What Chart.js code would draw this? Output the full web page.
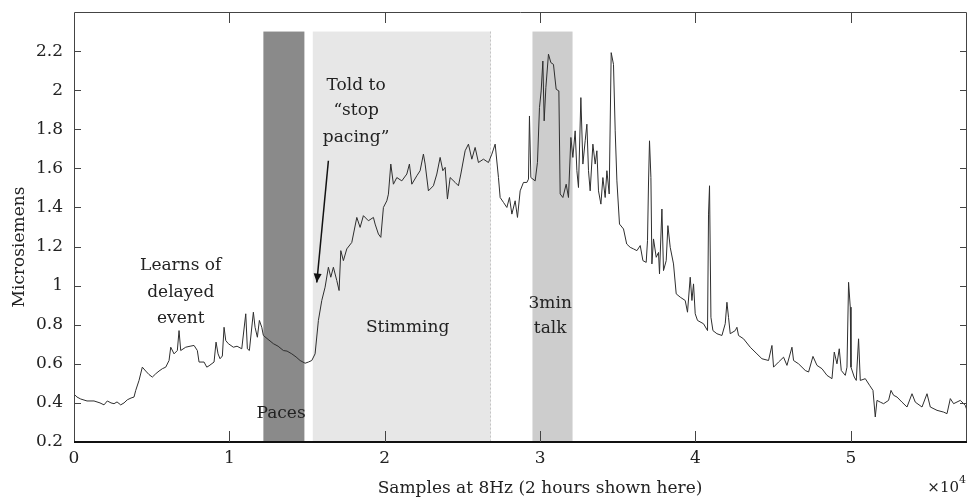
<!DOCTYPE html>
<html>
<head>
<meta charset="utf-8">
<script src="https://cdn.jsdelivr.net/npm/chart.js@4.4.1/dist/chart.umd.min.js"></script>
<style>
html,body{margin:0;padding:0;background:#fff;}
canvas{display:block;}
</style>
</head>
<body>
<canvas id="c" width="970" height="499"></canvas>
<script>
// ---- data ----
const sampleX = [0,193,431,837,1288,1674,1932,2144,2382,2576,2769,3007,3220,3432,3670,3863,3973,4185,4398,4617,4829,5042,5261,5473,5686,5905,6117,6227,6439,6651,6761,6870,7192,7469,7727,7939,8049,8371,8545,8693,9015,9143,9272,9401,9549,9659,9768,9935,10257,10496,10798,11056,11159,11288,11545,11655,11803,11932,12086,12189,12492,12833,13136,13477,13715,14018,14295,14552,14874,15087,15306,15518,15731,15949,16162,16374,16529,16696,16915,17063,17173,17340,17559,17881,18203,18416,18628,18950,19272,19381,19594,19749,19916,20135,20238,20392,20560,20779,21101,21423,21590,21745,22066,22279,22491,22601,22813,23135,23354,23567,23741,23889,24037,24211,24533,24745,24900,25176,25389,25608,25820,26033,26355,26677,26896,27108,27321,27430,27643,27862,28029,28184,28396,28545,28718,28931,29150,29253,29317,29407,29684,29832,29961,30070,30180,30263,30373,30540,30695,30862,31036,31210,31293,31467,31680,31828,31983,32111,32259,32369,32472,32626,32755,32903,33013,33116,33225,33399,33547,33657,33760,33915,34043,34191,34301,34449,34578,34726,34835,34945,35112,35370,35576,35801,36014,36233,36446,36619,36831,36915,36979,37044,37134,37198,37301,37475,37623,37688,37842,37945,38119,38228,38376,38589,38763,39020,39342,39490,39664,39774,39877,39986,40134,40521,40778,40843,40907,40997,41126,41383,41705,41918,42027,42130,42240,42562,42671,42774,43096,43527,43959,44281,44706,44925,45028,45350,45672,45891,46213,46316,46638,47069,47282,47565,47823,48145,48467,48789,48937,49110,49258,49387,49645,49754,49857,49966,50012,50224,50353,50501,50611,50933,51209,51428,51576,51686,51898,52111,52433,52588,52755,52974,53296,53618,53940,54152,54584,54906,55118,55549,55974,56193,56406,56618,57050,57372,57481];
const microsiemens = [0.445,0.43,0.42,0.41,0.41,0.40,0.39,0.41,0.40,0.396,0.405,0.39,0.40,0.416,0.425,0.43,0.464,0.515,0.583,0.563,0.545,0.532,0.549,0.563,0.575,0.583,0.617,0.685,0.651,0.668,0.770,0.668,0.685,0.69,0.694,0.668,0.609,0.609,0.583,0.590,0.609,0.711,0.651,0.626,0.640,0.787,0.719,0.703,0.685,0.690,0.677,0.856,0.677,0.668,0.864,0.787,0.736,0.822,0.787,0.745,0.725,0.703,0.69,0.668,0.665,0.651,0.635,0.617,0.603,0.609,0.617,0.651,0.822,0.924,0.992,1.094,1.043,1.094,1.026,0.975,1.179,1.128,1.188,1.221,1.349,1.298,1.358,1.332,1.349,1.315,1.264,1.247,1.40,1.434,1.468,1.622,1.519,1.553,1.536,1.571,1.622,1.519,1.562,1.588,1.673,1.622,1.485,1.511,1.571,1.656,1.588,1.605,1.443,1.553,1.528,1.511,1.571,1.690,1.724,1.647,1.707,1.630,1.647,1.630,1.673,1.724,1.553,1.451,1.426,1.40,1.451,1.366,1.434,1.349,1.485,1.528,1.528,1.545,1.868,1.553,1.536,1.630,1.911,1.996,2.149,1.843,2.013,2.184,2.141,2.132,2.005,1.996,1.469,1.451,1.519,1.451,1.758,1.656,1.792,1.588,1.502,1.962,1.622,1.741,1.826,1.588,1.485,1.724,1.622,1.690,1.485,1.417,1.553,1.451,1.588,1.469,2.192,2.132,1.792,1.536,1.315,1.290,1.213,1.196,1.188,1.179,1.205,1.128,1.119,1.230,1.520,1.741,1.553,1.111,1.239,1.145,1.170,1.060,1.392,1.077,1.128,1.307,1.196,1.111,0.958,0.941,0.924,0.864,1.043,0.924,1.009,0.856,0.822,0.805,0.770,1.366,1.511,0.838,0.770,0.754,0.745,0.805,0.915,0.838,0.754,0.770,0.787,0.745,0.728,0.685,0.651,0.626,0.617,0.694,0.583,0.609,0.634,0.592,0.685,0.617,0.600,0.566,0.558,0.638,0.592,0.575,0.541,0.524,0.660,0.600,0.677,0.566,0.541,0.583,1.017,0.890,0.583,0.532,0.515,0.728,0.515,0.524,0.490,0.464,0.328,0.413,0.404,0.396,0.413,0.464,0.439,0.430,0.404,0.379,0.447,0.404,0.379,0.447,0.379,0.362,0.353,0.345,0.422,0.396,0.413,0.387,0.362];

const regionNames = ["Paces", "Stimming", "3min talk"];
const regionStart = [12190, 15370, 29510];
const regionEnd   = [14830, 26830, 32090];
const regionTop = 2.3;

const xTickValues = [0, 10000, 20000, 30000, 40000, 50000];
const xTickLabels = ["0", "1", "2", "3", "4", "5"];
const yTickValues = [0.2, 0.4, 0.6, 0.8, 1.0, 1.2, 1.4, 1.6, 1.8, 2.0, 2.2];
const yTickLabels = ["0.2", "0.4", "0.6", "0.8", "1", "1.2", "1.4", "1.6", "1.8", "2", "2.2"];
const xMin = 0, xMax = 57480, yMin = 0.2, yMax = 2.4;

// ---- styling ----
const FONT = "DejaVu Serif";
const TEXT = "#222";
const regionColors = ["#8a8a8a", "#e7e7e7", "#cdcdcd"];

const annotations = [
  {lines: ["Learns of", "delayed", "event"], x: 6870, y: [1.102, 0.966, 0.832]},
  {lines: ["Paces"], x: 13329, y: [0.347]},
  {lines: ["Told to", "\u201cstop", "pacing\u201d"], x: 18158, y: [2.022, 1.894, 1.758]},
  {lines: ["Stimming"], x: 21474, y: [0.787]},
  {lines: ["3min", "talk"], x: 30650, y: [0.907, 0.779]}
];
const arrow = {from: [16374, 1.639], to: [15628, 1.016]};

const bgPlugin = {
  id: "bg",
  beforeDatasetsDraw(chart) {
    const {ctx, scales: {x, y}} = chart;
    ctx.save();
    for (let i = 0; i < regionStart.length; i++) {
      const x0 = x.getPixelForValue(regionStart[i]);
      const x1 = x.getPixelForValue(regionEnd[i]);
      const y0 = y.getPixelForValue(regionTop);
      const y1 = y.getPixelForValue(yMin);
      ctx.fillStyle = regionColors[i];
      ctx.fillRect(x0, y0, x1 - x0, y1 - y0);
    }
    // faint dashed right edge of stimming block
    ctx.strokeStyle = "#c4c4c4";
    ctx.setLineDash([2, 2]);
    ctx.lineWidth = 1;
    const sx = Math.round(x.getPixelForValue(regionEnd[1])) - 0.5;
    ctx.beginPath();
    ctx.moveTo(sx, y.getPixelForValue(regionTop));
    ctx.lineTo(sx, y.getPixelForValue(yMin));
    ctx.stroke();
    ctx.setLineDash([]);
    ctx.fillStyle = TEXT;
    ctx.font = "17px '" + FONT + "'";
    ctx.textAlign = "center";
    ctx.textBaseline = "middle";
    annotations.forEach(a => {
      a.lines.forEach((t, k) => {
        ctx.fillText(t, x.getPixelForValue(a.x), y.getPixelForValue(a.y[k]));
      });
    });
    // arrow
    const ax0 = x.getPixelForValue(arrow.from[0]), ay0 = y.getPixelForValue(arrow.from[1]);
    const ax1 = x.getPixelForValue(arrow.to[0]), ay1 = y.getPixelForValue(arrow.to[1]);
    ctx.strokeStyle = "#111";
    ctx.lineWidth = 1.5;
    ctx.beginPath(); ctx.moveTo(ax0, ay0); ctx.lineTo(ax1, ay1); ctx.stroke();
    const ang = Math.atan2(ay1 - ay0, ax1 - ax0);
    const L = 9, W = 4;
    ctx.beginPath();
    ctx.moveTo(ax1, ay1);
    ctx.lineTo(ax1 - L * Math.cos(ang) + W * Math.sin(ang), ay1 - L * Math.sin(ang) - W * Math.cos(ang));
    ctx.lineTo(ax1 - L * Math.cos(ang) - W * Math.sin(ang), ay1 - L * Math.sin(ang) + W * Math.cos(ang));
    ctx.closePath();
    ctx.fillStyle = "#111";
    ctx.fill();
    ctx.restore();
  },
  afterDraw(chart) {
    const {ctx, chartArea: a, scales: {x, y}} = chart;
    ctx.save();
    // frame
    ctx.strokeStyle = "#444";
    ctx.lineWidth = 1;
    ctx.beginPath();
    ctx.moveTo(a.left + 0.5, a.bottom); ctx.lineTo(a.left + 0.5, a.top + 0.5);
    ctx.lineTo(a.right - 0.5, a.top + 0.5); ctx.lineTo(a.right - 0.5, a.bottom);
    ctx.stroke();
    ctx.strokeStyle = "#111";
    ctx.lineWidth = 2;
    ctx.beginPath(); ctx.moveTo(a.left, a.bottom); ctx.lineTo(a.right, a.bottom); ctx.stroke();
    // inward ticks
    ctx.strokeStyle = "#444";
    ctx.lineWidth = 1;
    ctx.beginPath();
    xTickValues.forEach(v => {
      const px = Math.round(x.getPixelForValue(v)) + 0.5;
      if (v !== xMin) {
        ctx.moveTo(px, a.bottom); ctx.lineTo(px, a.bottom - 11);
        ctx.moveTo(px, a.top); ctx.lineTo(px, a.top + 11);
      }
    });
    yTickValues.forEach(v => {
      const py = Math.round(y.getPixelForValue(v)) + 0.5;
      if (v !== yMin) {
        ctx.moveTo(a.left, py); ctx.lineTo(a.left + 7, py);
        ctx.moveTo(a.right, py); ctx.lineTo(a.right - 7, py);
      }
    });
    ctx.stroke();
    // axis titles
    ctx.fillStyle = TEXT;
    ctx.font = "17px '" + FONT + "'";
    ctx.textAlign = "center";
    ctx.textBaseline = "alphabetic";
    ctx.fillText("Samples at 8Hz (2 hours shown here)", 540, 493);
    ctx.textAlign = "left";
    ctx.font = "15px '" + FONT + "'";
    const w = ctx.measureText("\u00d710").width;
    ctx.font = "11px '" + FONT + "'";
    const w4 = ctx.measureText("4").width;
    const startX = 966 - w - w4;
    ctx.font = "15px '" + FONT + "'";
    ctx.fillText("\u00d710", startX, 492);
    ctx.font = "11px '" + FONT + "'";
    ctx.fillText("4", startX + w, 483);
    ctx.save();
    ctx.translate(24, 247);
    ctx.rotate(-Math.PI / 2);
    ctx.font = "17px '" + FONT + "'";
    ctx.textAlign = "center";
    ctx.fillText("Microsiemens", 0, 0);
    ctx.restore();
    ctx.restore();
  }
};

const points = sampleX.map((v, i) => ({x: v, y: microsiemens[i]}));

new Chart(document.getElementById("c"), {
  type: "line",
  data: {
    datasets: [{
      data: points,
      borderColor: "#2e2e2e",
      borderWidth: 1,
      pointRadius: 0,
      tension: 0,
      fill: false
    }]
  },
  options: {
    responsive: false,
    animation: false,
    devicePixelRatio: 1,
    layout: {padding: {left: 0, right: 3, top: 12, bottom: 0}},
    plugins: {legend: {display: false}, tooltip: {enabled: false}},
    scales: {
      x: {
        type: "linear", min: xMin, max: xMax,
        afterFit(s) { s.height = 57; s.paddingLeft = 0; s.paddingRight = 0; },
        afterBuildTicks(s) { s.ticks = xTickValues.map(v => ({value: v})); },
        grid: {display: false, drawTicks: false},
        border: {display: false},
        ticks: {
          callback: (v) => { const i = xTickValues.indexOf(v); return i >= 0 ? xTickLabels[i] : ""; },
          font: {family: FONT, size: 17}, color: TEXT, padding: 6, maxRotation: 0, autoSkip: false
        }
      },
      y: {
        type: "linear", min: yMin, max: yMax,
        afterFit(s) { s.width = 74; s.paddingTop = 0; s.paddingBottom = 0; },
        afterBuildTicks(s) { s.ticks = yTickValues.map(v => ({value: v})); },
        grid: {display: false, drawTicks: false},
        border: {display: false},
        ticks: {
          callback: (v) => { const i = yTickValues.findIndex(t => Math.abs(t - v) < 1e-9); return i >= 0 ? yTickLabels[i] : ""; },
          font: {family: FONT, size: 17}, color: TEXT, padding: 11, autoSkip: false
        }
      }
    }
  },
  plugins: [bgPlugin]
});
</script>
</body>
</html>
